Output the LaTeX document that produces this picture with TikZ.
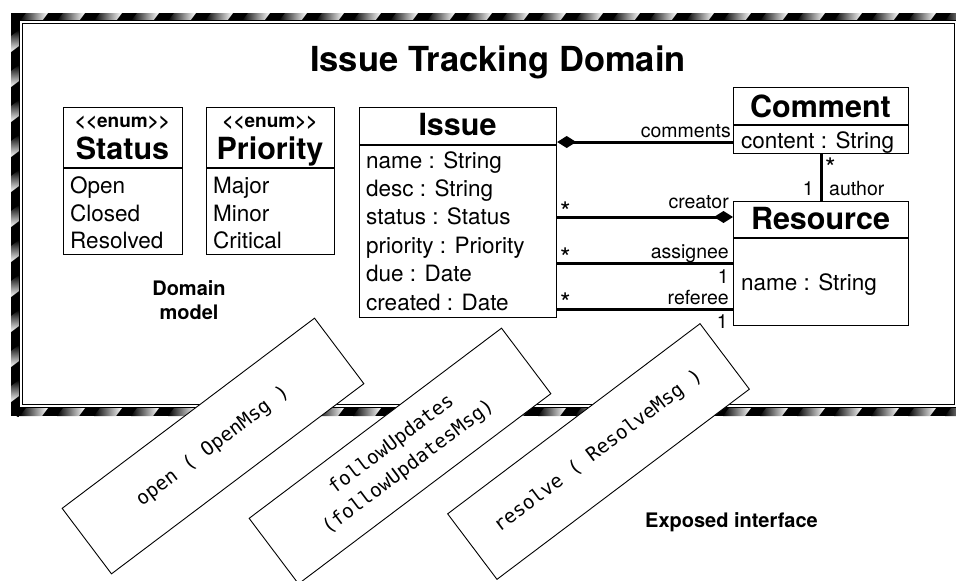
\documentclass[tikz,border=0pt]{standalone}
\usepackage{fontspec}
\setmainfont{TeX Gyre Heros}
\setmonofont{DejaVu Sans Mono}
\usetikzlibrary{arrows.meta}
\newcommand{\fsz}[1]{\fontsize{#1}{#1}\selectfont}
\begin{document}
\begin{tikzpicture}[x=1pt,y=-1pt,
  cls/.style={draw, line width=1.2pt, fill=white, inner sep=0pt, anchor=north west},
  txt/.style={inner sep=0pt, font=\fsz{22.5}},
  hdr/.style={inner sep=0pt, font=\bfseries\fsz{30.5}},
  stereo/.style={inner sep=0pt, font=\bfseries\fsz{19}},
  lbl/.style={inner sep=0pt, font=\fsz{19.5}},
  mult/.style={inner sep=0pt, font=\fsz{27}},
  note/.style={inner sep=0pt, align=center, font=\bfseries\fontsize{20}{24}\selectfont},
  assoc/.style={line width=3pt},
  divider/.style={line width=1.2pt},
  opbox/.style={draw, fill=white, line width=0.9pt, minimum width=316pt, minimum height=82pt,
    inner sep=0pt, align=center, font=\ttfamily\fontsize{19.3}{28}\selectfont},
  dia/.tip={Diamond[length=19pt,width=12pt]}
]
\useasboundingbox (0,0) rectangle (956,581);
% ---------- striped frame ----------
\begin{scope}
  \clip (0,0) rectangle (956,581);
  \fill[black] (11,13) rectangle (970,416);
  \begin{scope}
    \clip (11,13) rectangle (970,416);
    \foreach \c in {20,57,...,980} {
      \shade[left color=black, right color=white] (\c,21) -- (\c+22,21) -- (\c+28,13) -- (\c+6,13) -- cycle;
      \shade[left color=black, right color=white] (\c,416) -- (\c+22,416) -- (\c+28,408) -- (\c+6,408) -- cycle;
    }
    \foreach \c in {30,65,...,420} {
      \shade[top color=black, bottom color=white] (11,\c+6) -- (11,\c+22) -- (19,\c+16) -- (19,\c) -- cycle;
    }
  \end{scope}
  \draw[line width=1pt, fill=white] (19.5,20.5) rectangle (958,407.5);
  \draw[line width=1pt] (22.8,23.8) rectangle (954.3,404.8);
\end{scope}

% ---------- title ----------
\node[inner sep=0pt, anchor=base west, font=\bfseries\fsz{34.5}] (title) at (310,71) {Issue Tracking Domain};

% ---------- Status enum ----------
\node[cls, minimum width=119pt, minimum height=147pt] (status) at (63,107) {};
\draw[divider] (status.north west |- 0,168) -- (status.north east |- 0,168);
\node[stereo, anchor=base] (statusS) at (122.5,127) {<{}<enum>{}>};
\node[hdr, anchor=base] (statusT) at (122.5,159) {Status};
\node[txt, anchor=base west] (st1) at (70,193) {Open};
\node[txt, anchor=base west] (st2) at (70,221) {Closed};
\node[txt, anchor=base west] (st3) at (70,248) {Resolved};

% ---------- Priority enum ----------
\node[cls, minimum width=128pt, minimum height=147pt] (priority) at (206,107) {};
\draw[divider] (priority.north west |- 0,168) -- (priority.north east |- 0,168);
\node[stereo, anchor=base] (priorityS) at (270,127) {<{}<enum>{}>};
\node[hdr, anchor=base] (priorityT) at (270,159) {Priority};
\node[txt, anchor=base west] (pr1) at (213,193) {Major};
\node[txt, anchor=base west] (pr2) at (213,221) {Minor};
\node[txt, anchor=base west] (pr3) at (213,248) {Critical};

\node[note, anchor=north] (dm) at (189,280) {Domain\\model};

% ---------- Issue ----------
\node[cls, minimum width=197pt, minimum height=210pt] (issue) at (359,107) {};
\draw[divider] (issue.north west |- 0,145) -- (issue.north east |- 0,145);
\node[hdr, anchor=base] (issueT) at (457.5,135) {Issue};
\node[txt, anchor=base west] (is1) at (366,168) {name : String};
\node[txt, anchor=base west] (is2) at (366,196.4) {desc : String};
\node[txt, anchor=base west] (is3) at (366,224.8) {status : Status};
\node[txt, anchor=base west] (is4) at (366,253.2) {priority : Priority};
\node[txt, anchor=base west] (is5) at (366,281.6) {due : Date};
\node[txt, anchor=base west] (is6) at (366,310) {created : Date};

% ---------- Comment ----------
\node[cls, minimum width=175pt, minimum height=66pt] (comment) at (733,87) {};
\draw[divider] (comment.north west |- 0,125) -- (comment.north east |- 0,125);
\node[hdr, anchor=base] (commentT) at (820.5,117) {Comment};
\node[txt, anchor=base west] (cm1) at (741,148.5) {content : String};

% ---------- Resource ----------
\node[cls, minimum width=175pt, minimum height=124pt] (resource) at (733,201) {};
\draw[divider] (resource.north west |- 0,238) -- (resource.north east |- 0,238);
\node[hdr, anchor=base] (resourceT) at (820.5,229) {Resource};
\node[txt, anchor=base west] (rs1) at (741,290) {name : String};

% ---------- associations ----------
\draw[assoc, {dia}-] (issue.east |- 0,142) -- (comment.west |- 0,142);
\node[lbl, anchor=base east] (lcomments) at (731,137) {comments};

\draw[assoc, -{dia}] (issue.east |- 0,217) -- (resource.west |- 0,217);
\node[lbl, anchor=base east] (lcreator) at (729,208) {creator};
\node[mult, anchor=base west] (mcreator) at (560,221) {*};

\draw[assoc] (issue.east |- 0,263) -- (resource.west |- 0,263);
\node[lbl, anchor=base east] (lassignee) at (729,258) {assignee};
\node[mult, anchor=base west] (massignee) at (560,267) {*};
\node[lbl, anchor=base east] (oassignee) at (729,283) {1};

\draw[assoc] (issue.east |- 0,309) -- (resource.west |- 0,309);
\node[lbl, anchor=base east] (lreferee) at (729,304) {referee};
\node[mult, anchor=base west] (mreferee) at (560,312) {*};
\node[lbl, anchor=base east] (oreferee) at (728,328) {1};

\draw[assoc] (comment.south -| 821,0) -- (resource.north -| 821,0);
\node[mult, anchor=base west] (mauthor) at (825,177) {*};
\node[lbl, anchor=base east] (oauthor) at (814,195) {1};
\node[lbl, anchor=base west] (lauthor) at (829,195) {author};

% ---------- exposed interface ----------
\node[opbox, rotate=37] (op1) at (213,446) {open ( OpenMsg )};
\node[opbox, rotate=37] (op2) at (400,456) {followUpdates\\(followUpdatesMsg)};
\node[opbox, rotate=37] (op3) at (598.5,451.5) {resolve ( ResolveMsg )};
\node[inner sep=0pt, anchor=base west, font=\bfseries\fsz{20}] (expo) at (645,527) {Exposed interface};
\end{tikzpicture}
\end{document}
